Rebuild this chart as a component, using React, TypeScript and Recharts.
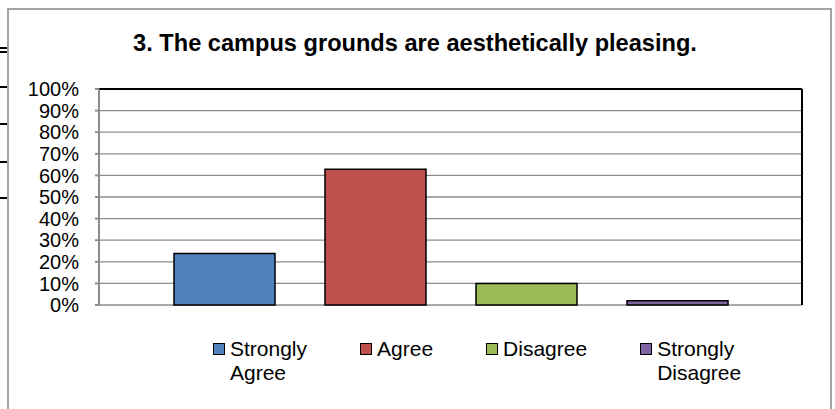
import React from 'react';
import { BarChart, Bar, XAxis, YAxis, CartesianGrid, ReferenceLine, Legend } from 'recharts';

const categories = ['3. The campus grounds are aesthetically pleasing.'];
const seriesKeys = ['sa', 'a', 'd', 'sd'];
const seriesNames = ['Strongly Agree', 'Agree', 'Disagree', 'Strongly Disagree'];
const seriesValues = [23.9, 62.8, 10.0, 2.0];
const seriesColors = ['#4F81BD', '#C0504D', '#9BBB59', '#8064A2'];
const yTicks = [0, 10, 20, 30, 40, 50, 60, 70, 80, 90, 100];
const yTickLabels = ['0%', '10%', '20%', '30%', '40%', '50%', '60%', '70%', '80%', '90%', '100%'];
const title = '3. The campus grounds are aesthetically pleasing.';

const data = categories.map((c) => {
  const row: Record<string, string | number> = { name: c };
  seriesKeys.forEach((k, i) => {
    row[k] = seriesValues[i];
  });
  return row;
});

const FONT = '"Liberation Sans", Arial, Helvetica, sans-serif';

const artifactYs = [47, 51, 86, 123, 161, 197];

const LegendContent = () => (
  <div
    style={{
      display: 'flex',
      alignItems: 'flex-start',
      paddingLeft: 213,
      gap: 53,
      fontFamily: FONT,
      fontSize: 21,
      lineHeight: '24px',
      color: '#000',
    }}
  >
    {seriesNames.map((n, i) => (
      <div key={n} style={{ display: 'flex', alignItems: 'flex-start' }}>
        <div
          style={{
            width: 12,
            height: 12,
            boxSizing: 'border-box',
            border: '1.5px solid #000',
            background: seriesColors[i],
            marginTop: 6,
            marginRight: 5,
          }}
        />
        <div style={{ width: 'min-content', textAlign: 'left' }}>{n}</div>
      </div>
    ))}
  </div>
);

export default function App() {
  return (
    <div
      style={{
        position: 'fixed',
        left: 0,
        top: 0,
        width: 835,
        height: 409,
        overflow: 'hidden',
        background: '#fff',
      }}
    >
      {artifactYs.map((y) => (
        <div
          key={y}
          style={{ position: 'absolute', left: 0, top: y, width: 7, height: 2, background: '#000' }}
        />
      ))}
      <div
        style={{
          position: 'absolute',
          left: 7,
          top: 8,
          width: 825,
          height: 430,
          boxSizing: 'border-box',
          border: '2px solid #a3a3a3',
        }}
      />
      <div
        style={{
          position: 'absolute',
          left: 0,
          top: 32,
          width: 830,
          textAlign: 'center',
          fontFamily: FONT,
          fontWeight: 'bold',
          fontSize: 23.6,
          lineHeight: '23px',
          color: '#000',
        }}
      >
        {title}
      </div>
      <div style={{ position: 'absolute', left: 0, top: 0 }}>
        <BarChart
          width={835}
          height={409}
          data={data}
          margin={{ top: 89, right: 31, bottom: 104, left: 0 }}
          barGap={50}
          barSize={101}
        >
          <CartesianGrid vertical={false} stroke="#8c8c8c" strokeWidth={1.3} />
          <XAxis
            dataKey="name"
            height={0}
            tick={false}
            tickLine={false}
            axisLine={{ stroke: '#000', strokeWidth: 2 }}
          />
          <YAxis
            width={99}
            domain={[0, 100]}
            ticks={yTicks}
            tickFormatter={(v: number) => yTickLabels[yTicks.indexOf(v)]}
            interval={0}
            tickSize={4}
            tickMargin={16}
            axisLine={{ stroke: '#8c8c8c', strokeWidth: 2 }}
            tickLine={{ stroke: '#8c8c8c', strokeWidth: 2 }}
            tick={{ fill: '#000', fontSize: 20, fontFamily: FONT }}
          />
          <YAxis
            yAxisId="r"
            orientation="right"
            width={2}
            domain={[0, 100]}
            ticks={yTicks}
            tick={false}
            tickLine={false}
            axisLine={{ stroke: '#000', strokeWidth: 2 }}
          />
          <ReferenceLine y={100} stroke="#000" strokeWidth={2} />
          {seriesKeys.map((k, i) => (
            <Bar
              key={k}
              dataKey={k}
              name={seriesNames[i]}
              fill={seriesColors[i]}
              stroke="#000"
              strokeWidth={1.5}
              isAnimationActive={false}
            />
          ))}
          <Legend
            layout="horizontal"
            verticalAlign="middle"
            align="center"
            content={<LegendContent />}
            wrapperStyle={{ top: 337, left: 0, width: 835 }}
          />
        </BarChart>
      </div>
    </div>
  );
}
